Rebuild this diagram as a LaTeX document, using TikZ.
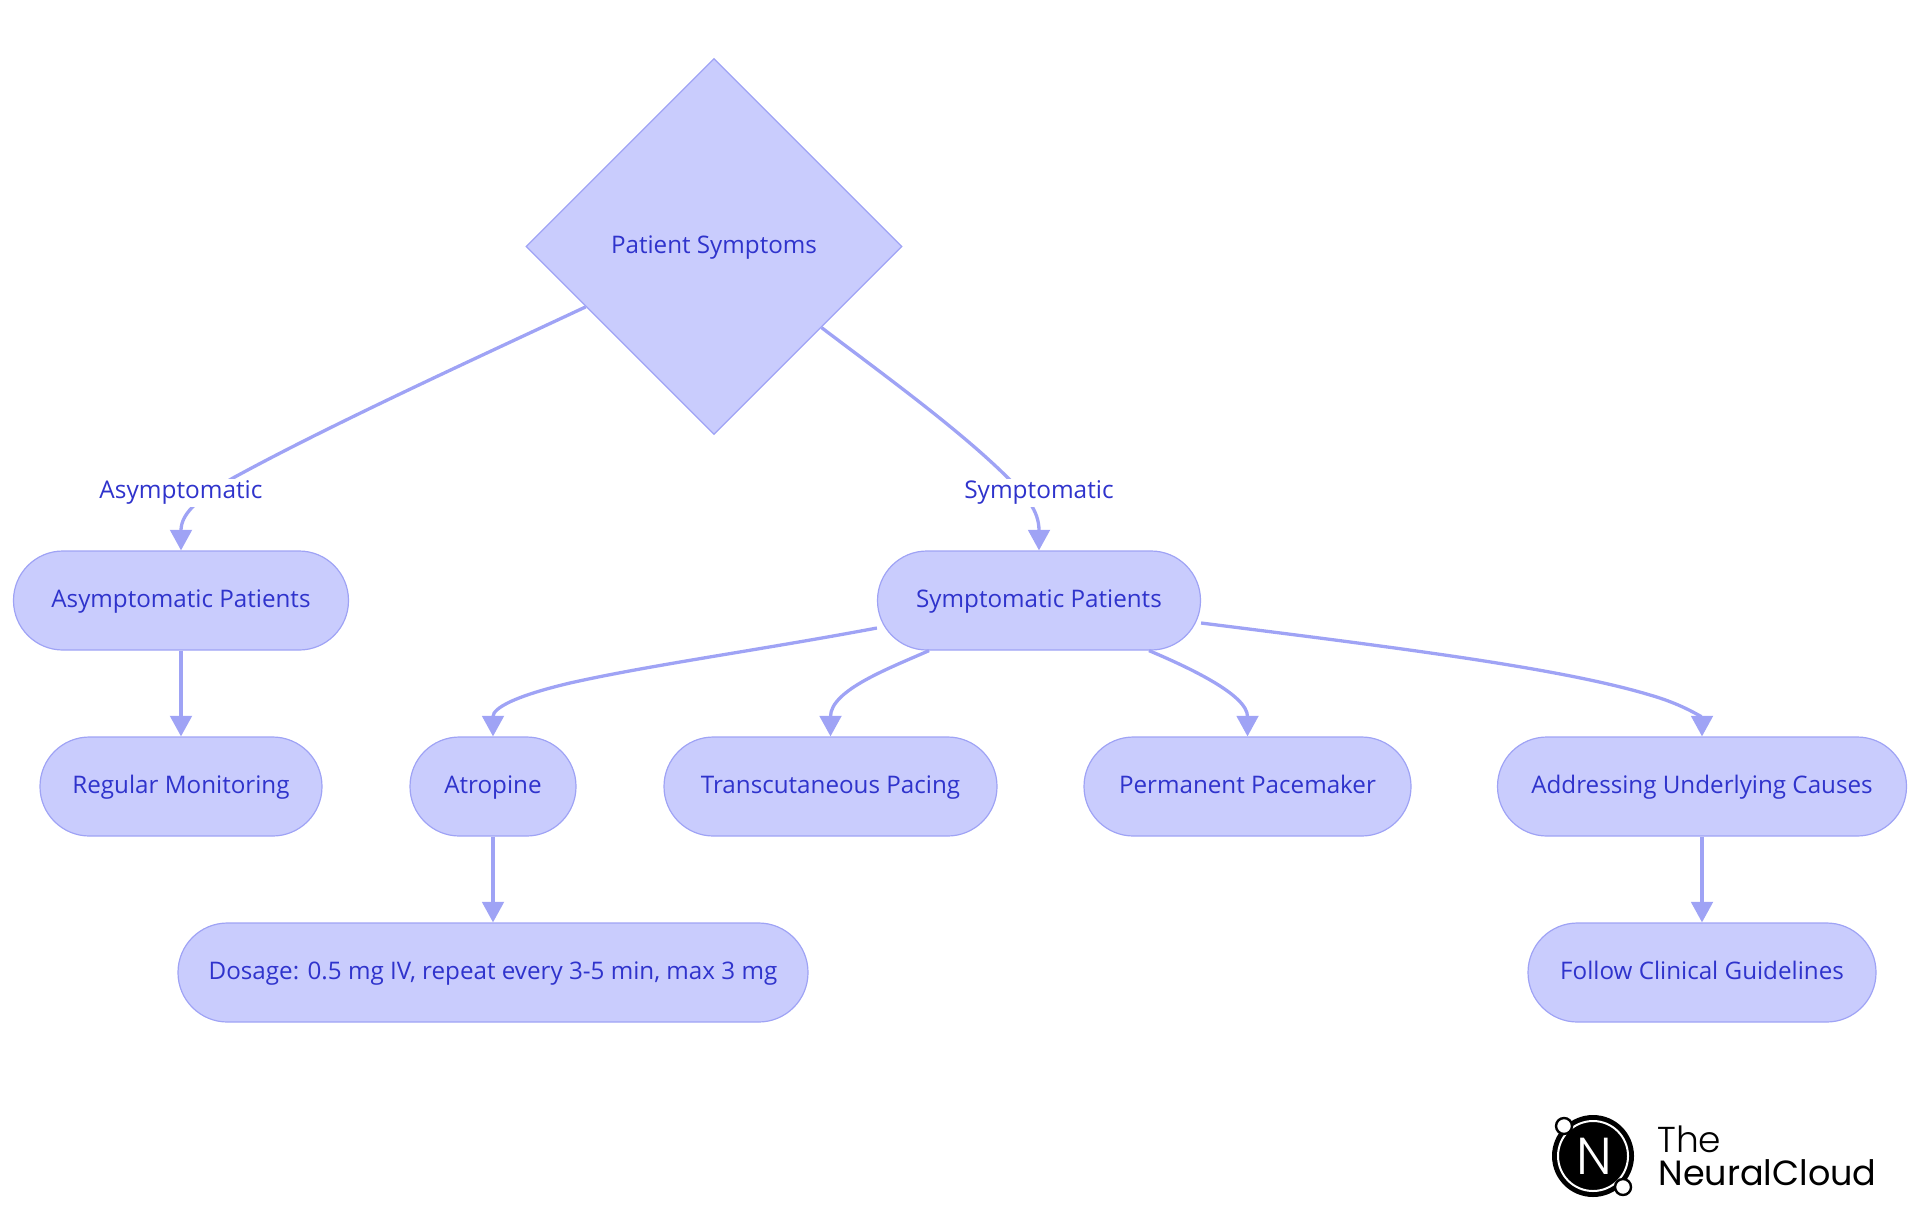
\documentclass[tikz,border=0pt]{standalone}
\usepackage{fontspec}
\usetikzlibrary{arrows.meta,shapes.geometric,calc}
\setmainfont{Open Sans}
\newfontfamily\logofont{Poppins Light}
\newfontfamily\logofontb{Poppins}
\definecolor{nfill}{HTML}{C9CCFD}
\definecolor{nline}{HTML}{9FA3F5}
\definecolor{ntext}{HTML}{2F33CC}
\tikzset{
  x=0.5pt,y=-0.5pt,
  base/.style={fill=nfill,draw=nline,line width=0.6pt,text=ntext,font=\fontsize{12.1}{14}\selectfont,inner sep=0pt,text height=10pt,text depth=3pt},
  pill/.style={base,rectangle,rounded corners=24.7pt,minimum height=49.5pt},
  deci/.style={base,diamond,minimum width=188pt,minimum height=188pt,aspect=1},
  edgelab/.style={fill=white,text=ntext,font=\fontsize{12.2}{14}\selectfont,inner sep=0pt,text height=10pt,text depth=4pt},
  conn/.style={draw=nline,line width=1.65pt,-{Triangle[length=10.3pt,width=10.8pt]}},
}
\begin{document}
\begin{tikzpicture}
\useasboundingbox (0,0) rectangle (1920,1215);
\node[deci] (ps) at (714,246.5) {Patient Symptoms};
\node[pill,minimum width=167.5pt] (ap) at (181,600.5) {Asymptomatic Patients};
\node[pill,minimum width=161.5pt] (sp) at (1039,600.5) {Symptomatic Patients};
\node[pill,minimum width=141pt] (rm) at (181,786.5) {Regular Monitoring};
\node[pill,minimum width=83pt] (at) at (493,786.5) {Atropine};
\node[pill,minimum width=166.5pt] (tp) at (830.5,786.5) {Transcutaneous Pacing};
\node[pill,minimum width=163.5pt] (pp) at (1247.5,786.5) {Permanent Pacemaker};
\node[pill,minimum width=204.5pt] (uc) at (1702,786.5) {Addressing Underlying Causes};
\node[pill,minimum width=315pt] (ds) at (493,972.5) {Dosage: 0.5 mg IV, repeat every 3-5 min, max 3 mg};
\node[pill,minimum width=174pt] (fg) at (1702,972.5) {Follow Clinical Guidelines};

\draw[conn] ($(ps.west)!0.32!(ps.south)$) .. controls (470,361) and (330,425) .. (233,478) .. controls (195,500) and (181,515) .. (ap.north);
\draw[conn] ($(ps.east)!0.43!(ps.south)$) .. controls (880,372) and (960,430) .. (1008,478) .. controls (1025,495) and (1039,510) .. (sp.north);
\draw[conn] (ap.south) -- (rm.north);
\draw[conn] (at.south) -- (ds.north);
\draw[conn] (uc.south) -- (fg.north);
\draw[conn] ($(sp.west)+(0,27.5)$) .. controls (760,650) and (650,665) .. (570,683) .. controls (515,696) and (493,708) .. (at.north);
\draw[conn] ($(sp.south)+(-110,0)$) .. controls (890,668) and (830.5,690) .. (tp.north);
\draw[conn] ($(sp.south)+(110,0)$) .. controls (1190,668) and (1247.5,695) .. (pp.north);
\draw[conn] ($(sp.east)+(0,22.5)$) .. controls (1400,648) and (1560,668) .. (1650,695) .. controls (1685,705) and (1702,718) .. (uc.north);

\node[edgelab] (la) at (181,492.5) {Asymptomatic};
\node[edgelab] (ls) at (1039,492.5) {Symptomatic};

% logo
\fill[black] (1593,1156) circle (20.5pt);
\draw[white,line width=1pt] (1593,1156) circle (17.5pt);
\node[circle,fill=white,draw=black,line width=1.2pt,minimum size=8pt,inner sep=0pt] (lc1) at (1564,1126) {};
\node[circle,fill=white,draw=black,line width=1.2pt,minimum size=8pt,inner sep=0pt] (lc2) at (1623,1187) {};
\node[text=white,font=\logofont\fontsize{26}{26}\selectfont,inner sep=0pt] (ln) at (1594,1156) {N};
\node[anchor=base west,font=\logofont\fontsize{18}{18}\selectfont,inner sep=0pt] (lt) at (1657,1152) {The};
\node[anchor=base west,font=\logofontb\fontsize{17.5}{18}\selectfont,inner sep=0pt] (lb) at (1658,1185) {NeuralCloud};
\end{tikzpicture}
\end{document}
